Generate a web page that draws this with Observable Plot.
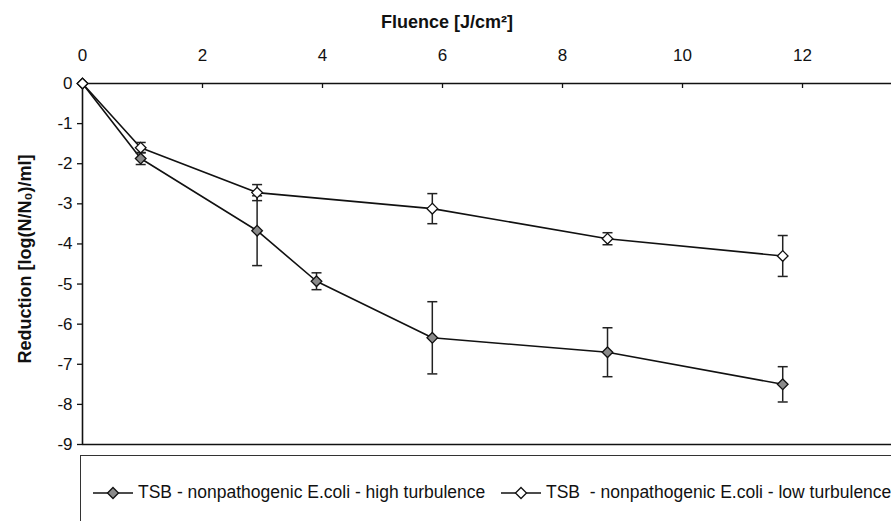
<!DOCTYPE html>
<html>
<head>
<meta charset="utf-8">
<script src="https://cdn.jsdelivr.net/npm/d3@7"></script>
<script src="https://cdn.jsdelivr.net/npm/@observablehq/plot@0.6"></script>
<style>
  html, body { margin: 0; padding: 0; background: #fff; overflow: hidden; }
  #wrap { position: relative; width: 891px; height: 521px; font-family: "Liberation Sans", Arial, sans-serif; }
  #legend { position: absolute; left: 80px; top: 455px; width: 900px; height: 100px; border: 1px solid #333; box-sizing: border-box; }
  .item { position: absolute; top: 26px; display: flex; align-items: center; font-size: 17.5px; color: #111; white-space: pre; }
  .item svg { margin-right: 5px; }
</style>
</head>
<body>
<div id="wrap"><div id="chart"></div><div id="legend"></div></div>
<script>
// ---- data ----
const highX   = [0, 0.97, 2.91, 3.9, 5.83, 8.75, 11.67];
const highY   = [0, -1.87, -3.67, -4.93, -6.34, -6.70, -7.50];
const highErr = [0, 0.15, 0.87, 0.21, 0.90, 0.61, 0.44];

const lowX    = [0, 0.97, 2.91, 5.83, 8.75, 11.67];
const lowY    = [0, -1.60, -2.72, -3.12, -3.87, -4.30];
const lowErr  = [0, 0.13, 0.20, 0.375, 0.15, 0.51];

const xTicks = [0, 2, 4, 6, 8, 10, 12];
const yTicks = [0, -1, -2, -3, -4, -5, -6, -7, -8, -9];
const seriesNames = ["TSB - nonpathogenic E.coli - high turbulence", "TSB  - nonpathogenic E.coli - low turbulence"];
const xTitle = "Fluence [J/cm\u00b2]";
const yTitle = "Reduction [log(N/N\u2080)/ml]";

const high = highX.map((x, i) => ({x, y: highY[i], e: highErr[i]}));
const low  = lowX.map((x, i) => ({x, y: lowY[i], e: lowErr[i]}));
const errs = [...high, ...low].filter(d => d.e > 0);

// cap symbol: short horizontal line
const capSymbol = { draw(ctx, size) { const w = 5; ctx.moveTo(-w, 0); ctx.lineTo(w, 0); } };

const chart = Plot.plot({
  width: 891,
  height: 462,
  marginTop: 83,
  marginLeft: 82,
  marginRight: 0,
  marginBottom: 18,
  style: { fontFamily: "Liberation Sans, Arial, sans-serif", fontSize: "17px", color: "#111", background: "transparent" },
  x: { domain: [0, 13.483] },
  y: { domain: [-9, 0] },
  marks: [
    Plot.axisX({ anchor: "top", ticks: xTicks, tickSize: 0, tickPadding: 23, tickFormat: d => String(d), label: null, fontSize: 17 }),
    Plot.axisY({ anchor: "left", ticks: yTicks, tickSize: 5, tickPadding: 5, tickFormat: d => String(d), label: null, fontSize: 17, strokeWidth: 1.3 }),
    Plot.tickX(xTicks, { x: d => d, insetBottom: 356, stroke: "#111", strokeWidth: 1.3 }),
    Plot.ruleY([0], { stroke: "#111", strokeWidth: 1.6 }),
    Plot.ruleY([-9], { stroke: "#111", strokeWidth: 1.6 }),
    Plot.ruleX([0], { stroke: "#111", strokeWidth: 1.6 }),
    Plot.line(high, { x: "x", y: "y", stroke: "#111", strokeWidth: 1.6 }),
    Plot.line(low, { x: "x", y: "y", stroke: "#111", strokeWidth: 1.6 }),
    Plot.ruleX(errs, { x: "x", y1: d => d.y - d.e, y2: d => d.y + d.e, stroke: "#222", strokeWidth: 1.5 }),
    Plot.dot(errs, { x: "x", y: d => d.y + d.e, symbol: capSymbol, stroke: "#222", strokeWidth: 1.5, fill: "none" }),
    Plot.dot(errs, { x: "x", y: d => d.y - d.e, symbol: capSymbol, stroke: "#222", strokeWidth: 1.5, fill: "none" }),
    Plot.dot(high, { x: "x", y: "y", symbol: "diamond2", r: 4.8, fill: "#8a8a8a", stroke: "#111", strokeWidth: 1.3 }),
    Plot.dot(low, { x: "x", y: "y", symbol: "diamond2", r: 4.8, fill: "white", stroke: "#111", strokeWidth: 1.3 }),
    Plot.text([xTitle], { frameAnchor: "top", lineAnchor: "middle", textAnchor: "middle", dx: -40, dy: -61, fontWeight: "bold", fontSize: 18, fill: "#111" }),
    Plot.text([yTitle], { frameAnchor: "left", lineAnchor: "middle", textAnchor: "middle", rotate: -90, dx: -57, dy: -5, fontWeight: "bold", fontSize: 18, fill: "#111" })
  ]
});
document.getElementById("chart").appendChild(chart);

// legend
const legend = document.getElementById("legend");
const fills = ["#8a8a8a", "white"];
const lefts = [12, 420];
seriesNames.forEach((name, i) => {
  const item = document.createElement("div");
  item.className = "item";
  item.style.left = lefts[i] + "px";
  item.innerHTML = `<svg width="40" height="14" viewBox="0 0 40 14"><line x1="0" x2="40" y1="7" y2="7" stroke="#111" stroke-width="1.6"/><path d="M20,1.5 L25.5,7 L20,12.5 L14.5,7 Z" fill="${fills[i]}" stroke="#111" stroke-width="1.3"/></svg><span>${name}</span>`;
  legend.appendChild(item);
});
</script>
</body>
</html>
